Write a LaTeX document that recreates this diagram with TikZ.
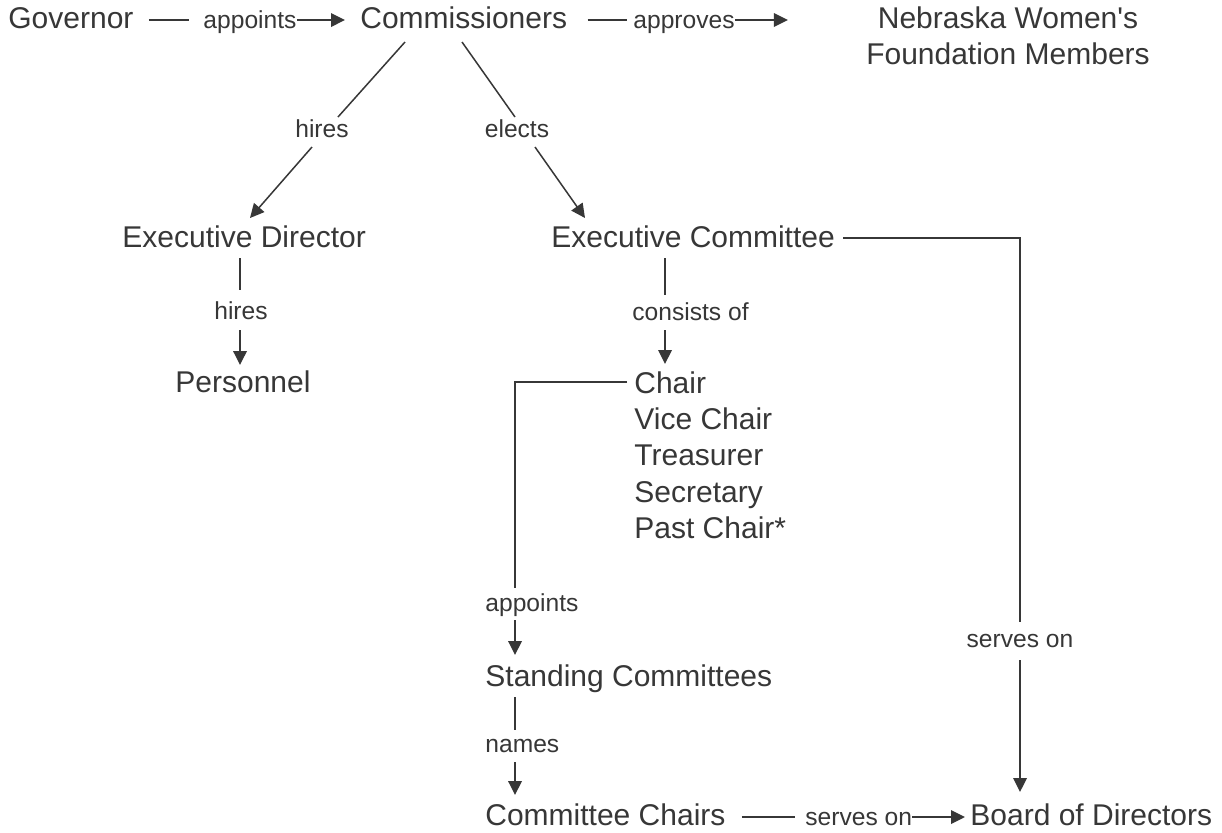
\documentclass[tikz,border=0pt]{standalone}
\usepackage{fontspec}
\setmainfont{Liberation Sans}
\usetikzlibrary{arrows.meta,calc}
\definecolor{ink}{RGB}{55,55,55}
\begin{document}
\begin{tikzpicture}[x=0.5pt,y=-0.5pt,
  txt/.style={font=\fontsize{15}{18.2}\selectfont, inner sep=0pt, text=ink},
  lab/.style={font=\fontsize{12.3}{14}\selectfont, inner sep=0pt, text=ink},
  ln/.style={draw=ink, line width=0.75pt},
  arr/.style={ln, -{Triangle[length=7pt,width=6.8pt]}}]
\useasboundingbox[fill=white] (0,0) rectangle (1222,832);
% nodes
\node[txt, anchor=base west] (gov) at (8,28) {Governor};
\node[txt, anchor=base west] (comm) at (360,28) {Commissioners};
\node[txt, align=center, anchor=north] (nwf) at (1008,6) {Nebraska Women\textquotesingle s\\Foundation Members};
\node[lab, anchor=base] (appt1) at (250,28) {appoints};
\node[lab, anchor=base] (appr) at (684,28) {approves};
\node[txt, anchor=base west] (ed) at (122,247) {Executive Director};
\node[txt, anchor=base west] (ec) at (551,247) {Executive Committee};
\node[lab, anchor=base] (hires1) at (322,137) {hires};
\node[lab, anchor=base] (elects) at (517,137) {elects};
\node[lab, anchor=base] (hires2) at (241,319) {hires};
\node[txt, anchor=base west] (pers) at (175,392) {Personnel};
\node[lab, anchor=base west] (cons) at (632,320) {consists of};
\node[txt, align=left, anchor=north west] (officers) at (634,371) {Chair\\Vice Chair\\Treasurer\\Secretary\\Past Chair*};
\node[lab, anchor=base west] (appt2) at (485,611) {appoints};
\node[txt, anchor=base west] (sc) at (485,686) {Standing Committees};
\node[lab, anchor=base west] (names) at (485,752) {names};
\node[txt, anchor=base west] (cc) at (485,825) {Committee Chairs};
\node[lab, anchor=base west] (serves2) at (805,825) {serves on};
\node[txt, anchor=base west] (bod) at (970,825) {Board of Directors};
\node[lab, anchor=base] (serves1) at (1020,647) {serves on};
% connectors
\draw[ln] ($(gov.base east)+(15,-8)$) -- ($(appt1.base west)+(-14,-8)$);
\draw[arr] ($(appt1.base east)+(0,-8)$) -- ($(comm.base west)+(-15,-8)$);
\draw[ln] ($(comm.base east)+(20,-8)$) -- ($(appr.base west)+(-6,-8)$);
\draw[arr] ($(appr.base east)+(0,-8)$) -- ($(appr.base east -| nwf.west)+(-78,-8)$);
\draw[ln] ($(comm.base west)+(45,14)$) -- ($(hires1.base)+(16,-20)$);
\draw[arr] ($(hires1.base)+(-10,10)$) -- ($(ed.base west)+(128,-29)$);
\draw[ln] ($(comm.base west)+(102,14)$) -- ($(elects.base)+(-2,-20)$);
\draw[arr] ($(elects.base)+(18,10)$) -- ($(ec.base west)+(34,-29)$);
\draw[ln] ($(ed.base west)+(118,11)$) -- ($(hires2.base)+(-1,-29)$);
\draw[arr] ($(hires2.base)+(-1,11)$) -- ($(pers.base west)+(65,-27)$);
\draw[ln] ($(ec.base west)+(114,11)$) -- ($(cons.base west)+(33,-25)$);
\draw[arr] ($(cons.base west)+(33,10)$) -- ($(officers.north west)+(31,-7)$);
\draw[ln] ($(officers.north west)+(-7,11)$) -| ($(appt2.base west)+(30,-23)$);
\draw[arr] ($(appt2.base west)+(30,9)$) -- ($(sc.base west)+(30,-31)$);
\draw[ln] ($(sc.base west)+(30,11)$) -- ($(names.base west)+(30,-22)$);
\draw[arr] ($(names.base west)+(30,10)$) -- ($(cc.base west)+(30,-30)$);
\draw[ln] ($(cc.base east)+(16,-8)$) -- ($(serves2.base west)+(-10,-8)$);
\draw[arr] ($(serves2.base east)+(0,-8)$) -- ($(bod.base west)+(-5,-8)$);
\draw[ln] ($(ec.base east)+(8,-9)$) -| ($(serves1.base)+(0,-25)$);
\draw[arr] ($(serves1.base)+(0,13)$) -- ($(bod.base west)+(50,-33)$);
\end{tikzpicture}
\end{document}
